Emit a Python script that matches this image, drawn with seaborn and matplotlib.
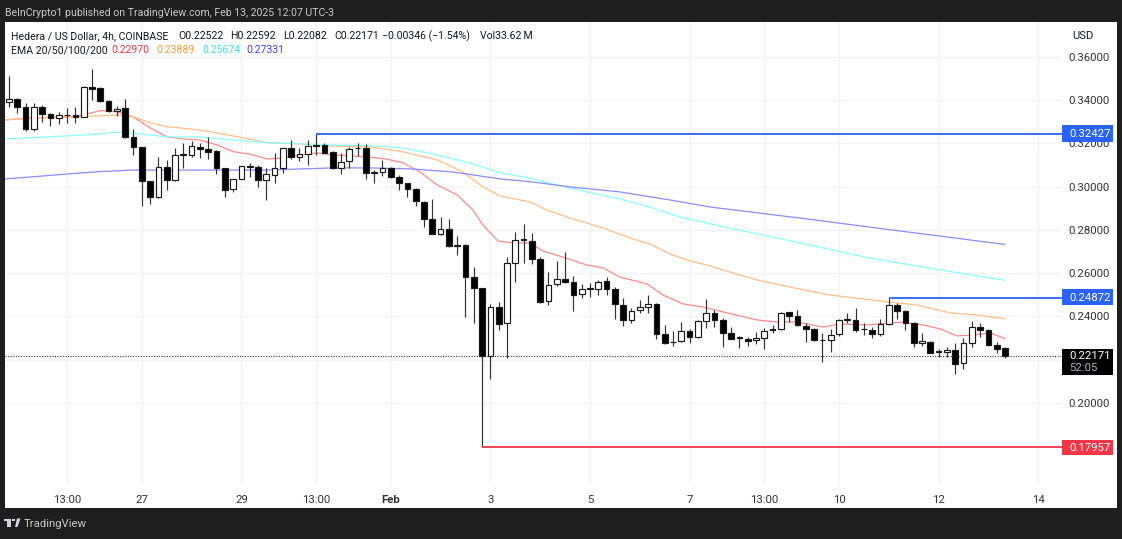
import matplotlib
matplotlib.use('Agg')
import matplotlib.pyplot as plt
from matplotlib.patches import Rectangle, Polygon
import pandas as pd
import seaborn as sns

# candle values, in chart order, 4h HBAR/USD
opens = [.3392,.3406,.3369,.3267,.3369,.3336,.3318,.3332,.3332,.3322,.3461,.3457,.3397,.3350,.3364,.3230,.3184,.3027,.2952,.3091,
         .3031,.3147,.3147,.3184,.3175,.3165,.3087,.2989,.3036,.3096,.3091,.3031,.3054,.3087,.3179,.3138,.3151,.3188,.3193,.3161,
         .3087,.3119,.3179,.3179,.3068,.3068,.3087,.3045,.3017,.2989,.2929,.2851,.2781,.2805,.2730,.2730,.2582,.2532,.2217,.2444,
         .2370,.2647,.2754,.2749,.2666,.2472,.2550,.2573,.2559,.2504,.2527,.2527,.2564,.2527,.2453,.2384,.2430,.2444,.2458,.2319,
         .2282,.2287,.2333,.2305,.2379,.2416,.2384,.2324,.2300,.2296,.2291,.2300,.2342,.2342,.2421,.2402,.2356,.2342,.2291,.2291,
         .2319,.2384,.2384,.2342,.2337,.2319,.2365,.2453,.2425,.2370,.2277,.2282,.2236,.2236,.2245,.2185,.2277,.2351,.2337,.2268,.22522]
highs = [.3512,.3410,.3387,.3387,.3378,.3341,.3346,.3364,.3369,.3466,.3545,.3461,.3401,.3373,.3406,.3267,.3184,.3027,.3138,.3124,
         .3179,.3202,.3212,.3202,.3230,.3170,.3087,.3036,.3096,.3110,.3101,.3087,.3156,.3179,.3216,.3179,.3216,.32427,.3202,.3165,
         .3156,.3184,.3202,.3198,.3078,.3124,.3091,.3054,.3017,.2994,.2934,.2943,.2860,.2851,.2772,.2735,.2629,.2532,.2458,.2467,
         .2675,.2791,.2828,.2786,.2675,.2606,.2656,.2698,.2587,.2550,.2555,.2569,.2582,.2536,.2485,.2439,.2476,.2499,.2462,.2361,
         .2333,.2374,.2342,.2384,.2481,.2430,.2393,.2351,.2310,.2305,.2328,.2347,.2361,.2421,.2421,.2430,.2370,.2347,.2324,.2342,
         .2388,.2416,.2439,.2370,.2351,.2388,.24872,.2462,.2430,.2374,.2324,.2287,.2250,.2259,.2277,.2300,.2379,.2370,.2342,.2282,.22592]
lows = [.3369,.3341,.3258,.3258,.3299,.3281,.3290,.3295,.3295,.3322,.3401,.3392,.3346,.3327,.3225,.3147,.2911,.2920,.2948,.2985,
        .3027,.3087,.3138,.3133,.3128,.3059,.2952,.2976,.3036,.3045,.2999,.2939,.3017,.3064,.3128,.3119,.3101,.3147,.3156,.3082,
        .3059,.3087,.3142,.3036,.3017,.3050,.3040,.2985,.2952,.2911,.2814,.2781,.2777,.2721,.2684,.2397,.2370,.17957,.2111,.2337,
        .2208,.2559,.2647,.2643,.2462,.2453,.2541,.2555,.2425,.2485,.2490,.2499,.2499,.2388,.2356,.2370,.2416,.2416,.2296,.2273,
        .2263,.2282,.2277,.2300,.2347,.2351,.2259,.2296,.2254,.2263,.2273,.2250,.2324,.2337,.2374,.2356,.2282,.2287,.2189,.2236,
        .2310,.2370,.2328,.2314,.2300,.2310,.2361,.2388,.2337,.2259,.2263,.2231,.2212,.2212,.2134,.2157,.2259,.2305,.2263,.2231,.22082]
closes = [.3406,.3369,.3267,.3369,.3336,.3318,.3332,.3334,.3322,.3461,.3452,.3397,.3350,.3359,.3230,.3184,.3027,.2952,.3091,.3031,
          .3147,.3151,.3188,.3175,.3161,.3087,.2985,.3036,.3096,.3091,.3031,.3059,.3087,.3179,.3138,.3151,.3188,.3193,.3156,.3087,
          .3114,.3175,.3177,.3064,.3064,.3087,.3045,.3017,.2989,.2934,.2851,.2781,.2805,.2726,.2726,.2582,.2532,.2217,.2444,.2365,
          .2647,.2754,.2758,.2666,.2467,.2546,.2573,.2559,.2499,.2527,.2532,.2559,.2527,.2458,.2384,.2425,.2444,.2458,.2319,.2277,
          .2280,.2333,.2305,.2379,.2416,.2384,.2324,.2296,.2305,.2287,.2300,.2333,.2337,.2416,.2402,.2361,.2342,.2291,.2289,.2314,
          .2384,.2388,.2337,.2340,.2319,.2365,.2453,.2425,.2370,.2277,.2287,.2231,.2240,.2245,.2180,.2277,.2351,.2337,.2268,.2250,.22171]

# EMA curves (candle number, price)
ema20_x = [.5,3.9,8,9.9,12,14,15.9,18,20,22,24,26.1,28,30,32.1,34,36.1,38.1,40,44.1,46.5,48.5,50.5,52.6,55,56.9,58.1,59.9,61.7,63.8,
           65.3,67.7,70.6,72.6,74.6,77.9,79.8,82.2,84.6,87,91.1,93.5,95.9,99.1,101.1,104.4,107.1,108.7,111.1,113.2,115.2,117.1,119.2,121]
ema20_y = [.3309,.3318,.3322,.3332,.3352,.3347,.3324,.3272,.3231,.3221,.3216,.3193,.3162,.3151,.3128,.3133,.3147,.3156,.3147,.3138,.3128,.3110,.3068,.3008,.2962,.2892,.2823,.2749,.2740,.2740,
           .2703,.2675,.2638,.2624,.2582,.2550,.2499,.2458,.2444,.2421,.2384,.2374,.2374,.2351,.2365,.2361,.2370,.2374,.2361,.2342,.2310,.2314,.2324,.22970]
ema50_x = [.5,3.9,9.9,14,15.9,18,20,24,28,32.1,36.1,40,44.5,48.5,52.6,55.7,58.1,60.2,63.8,65.8,68.6,72.6,75.8,78.2,80.6,82.7,85.5,87,91.1,95.1,99.9,103.9,107.1,110.4,114.4,117.6,121]
ema50_y = [.3309,.3318,.3324,.3332,.3324,.3296,.3278,.3262,.3235,.3204,.3198,.3188,.3184,.3161,.3124,.3068,.2999,.2957,.2929,.2892,.2855,.2809,.2763,.2735,.2689,.2661,.2633,.2615,.2569,.2536,.2499,.2481,.2467,.2453,.2416,.2407,.23889]
ema100_x = [.5,5.9,9.9,14,15.9,20,24,28,32.1,36.1,40,44.5,48.5,52.6,56.5,60.2,63.8,67,70.6,74.6,78.2,81.8,85.5,96.3,104.7,113.2,121]
ema100_y = [.3221,.3231,.3239,.3252,.3248,.3231,.3230,.3216,.3204,.3198,.3193,.3190,.3179,.3147,.3110,.3064,.3040,.3008,.2976,.2943,.2906,.2860,.2828,.2740,.2670,.2615,.25674]
ema200_x = [.5,3.9,8,12,15.9,24,32.1,40,44.5,49.7,54.5,60.2,64.1,68.6,74.6,80.6,85.5,96.3,108.4,121]
ema200_y = [.3036,.3046,.3059,.3070,.3077,.3077,.3077,.3087,.3087,.3082,.3068,.3036,.3022,.2999,.2976,.2939,.2906,.2855,.2795,.27331]

# horizontal levels: price and the candle they start from
level_prices = [.32427, .24872, .17957]
level_starts = [38, 107, 58]
level_colors = ['#2962ff', '#2962ff', '#f23645']
last_price = .22171

price_ticks = [.20, .24, .26, .28, .30, .32, .34, .36]
date_ticks = [8, 17, 29, 38, 47, 59, 71, 83, 92, 101, 113, 125]
date_labels = ['13:00', '27', '29', '13:00', 'Feb', '3', '5', '7', '13:00', '10', '12', '14']

W, H = 1122, 539
sns.set_theme(style='white')
plt.rcParams['font.family'] = ['Roboto', 'DejaVu Sans']

candles = pd.DataFrame({'open': opens, 'high': highs, 'low': lows, 'close': closes})
candles['n'] = range(1, len(candles) + 1)
candles['up'] = candles['close'] >= candles['open']

fig = plt.figure(figsize=(W / 100, H / 100), dpi=100, facecolor='#1e1e1e')
fig.add_artist(Rectangle((5 / W, 1 - 508 / H), 1112 / W, 486 / H, transform=fig.transFigure,
                         facecolor='white', edgecolor='none', zorder=-5))
ax = fig.add_axes([5 / W, 1 - 485 / H, 1057 / W, 463 / H])
ax.patch.set_alpha(0)
ax.set_xlim(0.518, 127.87)
ax.set_ylim(0.16205, 0.37618)
sns.despine(ax=ax, left=True, bottom=True, right=True, top=True)

ax.set_axisbelow(True)
ax.set_yticks([.22], minor=True)
ax.grid(True, which='both', color='#f2f3f5', linewidth=1)

for xs, ys, col in [(ema20_x, ema20_y, '#ff8a8a'), (ema50_x, ema50_y, '#ffbe85'),
                    (ema100_x, ema100_y, '#8affff'), (ema200_x, ema200_y, '#8c8cff')]:
    sns.lineplot(x=xs, y=ys, color=col, linewidth=0.9, errorbar=None, ax=ax, zorder=2)

ax.vlines(candles['n'], candles['low'], candles['high'], color='#333333', linewidth=0.85, zorder=3)
bottoms = candles[['open', 'close']].min(axis=1)
heights = (candles['close'] - candles['open']).abs()
ax.bar(candles['n'], heights, bottom=bottoms, width=0.68, zorder=4, linewidth=0.85, edgecolor='#1a1a1a',
       color=['white' if u else 'black' for u in candles['up']])

for price, start, col in zip(level_prices, level_starts, level_colors):
    ax.hlines(price, start, 127.87, color=col, linewidth=1.3, zorder=5)
ax.axhline(last_price, color='#222222', linewidth=0.75, linestyle=(0, (1, 1.5)), zorder=5)

ax.yaxis.tick_right()
ax.set_yticks(price_ticks, [f'{p:.5f}' for p in price_ticks])
ax.set_xticks(date_ticks, date_labels)
ax.tick_params(axis='y', which='both', length=0, pad=4.5, labelsize=8.2, labelcolor='#333333')
ax.tick_params(axis='x', length=0, pad=7, labelsize=8.2, labelcolor='#333333')
ax.get_xticklabels()[4].set_fontweight('bold')


def put(x, y, s, color='#131722', size=7.6, **kw):
    fig.text(x / W, 1 - y / H, s, color=color, fontsize=size, va='center', **kw)


def tag(y0, y1, col):
    fig.add_artist(Rectangle((1062 / W, 1 - y1 / H), 51 / W, (y1 - y0) / H, transform=fig.transFigure,
                             facecolor=col, edgecolor='none', zorder=6))


# price tags on the right
tag(125, 142, '#2962ff')
tag(289, 305, '#2962ff')
tag(440, 455, '#f23645')
tag(349, 375, '#000000')
for y, s in [(134, '0.32427'), (298, '0.24872'), (448, '0.17957'), (356, '0.22171')]:
    put(1069, y, s, color='white', size=8.2, zorder=7)
put(1069, 368, '52:05', color='#b2b5be', size=8.2, zorder=7)
put(1072, 36, 'USD', size=8)

# header and legend
put(5, 13, 'BeInCrypto1 published on TradingView.com, Feb 13, 2025 12:07 UTC-3', color='#c9c9c9')
put(11, 36, 'Hedera / US Dollar, 4h, COINBASE')
for x, s in [(178, 'O0.22522'), (230, 'H0.22592'), (283, 'L0.22082'), (334, 'C0.22171'),
             (382, '\u22120.00346 (\u22121.54%)'), (480, 'Vol33.62\u2009M')]:
    put(x, 36, s)
put(11, 50, 'EMA 20/50/100/200')
for x, s, col in [(111, '0.22970', '#f23645'), (156, '0.23889', '#ff9a3c'),
                  (202, '0.25674', '#35e5e5'), (246, '0.27331', '#3f3fff')]:
    put(x, 50, s, color=col)

# TradingView footer
put(24, 524, 'TradingView', color='#c9c9c9', size=8.2)
fig.add_artist(Rectangle((4 / W, 1 - 521 / H), 7 / W, 2.5 / H, transform=fig.transFigure, facecolor='#d1d4dc', edgecolor='none'))
fig.add_artist(Rectangle((7 / W, 1 - 527 / H), 4 / W, 6 / H, transform=fig.transFigure, facecolor='#d1d4dc', edgecolor='none'))
fig.add_artist(Polygon([(15 / W, 1 - 527 / H), (17.5 / W, 1 - 527 / H), (20.5 / W, 1 - 518.5 / H), (17 / W, 1 - 518.5 / H)],
                       transform=fig.transFigure, facecolor='#d1d4dc', edgecolor='none'))
fig.add_artist(Rectangle((12 / W, 1 - 521 / H), 3 / W, 2.5 / H, transform=fig.transFigure, facecolor='#d1d4dc', edgecolor='none'))

fig.savefig('out.png', dpi=100, facecolor=fig.get_facecolor())
